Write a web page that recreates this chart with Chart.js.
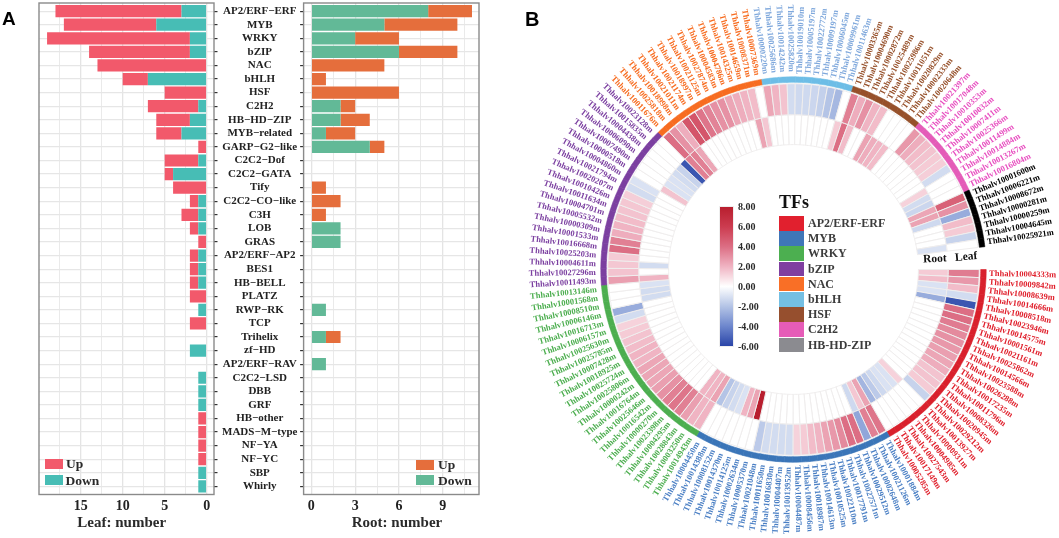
<!DOCTYPE html>
<html>
<head>
<meta charset="utf-8">
<script src="https://cdn.jsdelivr.net/npm/chart.js@4"></script>
<style>
  html, body { margin: 0; padding: 0; background: #fff; overflow: hidden; }
  #page { position: relative; width: 1059px; height: 538px; font-family: "Liberation Serif", serif; font-weight: bold; color: #2a2a2a; }
  #page canvas { position: absolute; top: 0; }
  .txt { position: absolute; white-space: nowrap; line-height: 1; }
  .box { position: absolute; }
  .letter { font-family: "Liberation Sans", sans-serif; color: #000; }
</style>
</head>
<body>
<div id="page">
  <canvas id="chart-leaf" width="300" height="538" style="left:0;width:300px;height:538px"></canvas>
  <canvas id="chart-root" width="205" height="538" style="left:285px;width:205px;height:538px"></canvas>
  <canvas id="chart-ring" width="549" height="538" style="left:510px;width:549px;height:538px"></canvas>
  <div id="overlay"></div>
</div>
<script>
// ─── BAR DATA ─────────────────────────────────────────────
const categories = ['AP2/ERF−ERF', 'MYB', 'WRKY', 'bZIP', 'NAC', 'bHLH', 'HSF', 'C2H2', 'HB−HD−ZIP', 'MYB−related',
  'GARP−G2−like', 'C2C2−Dof', 'C2C2−GATA', 'Tify', 'C2C2−CO−like', 'C3H', 'LOB', 'GRAS', 'AP2/ERF−AP2', 'BES1',
  'HB−BELL', 'PLATZ', 'RWP−RK', 'TCP', 'Trihelix', 'zf−HD', 'AP2/ERF−RAV', 'C2C2−LSD', 'DBB', 'GRF', 'HB−other',
  'MADS−M−type', 'NF−YA', 'NF−YC', 'SBP', 'Whirly']
const leafUp = [15, 11, 17, 12, 13, 3, 5, 6, 4, 3, 1, 4, 1, 4, 1, 2, 1, 1, 1, 1, 1, 2, 0, 2, 0, 0, 0, 0, 0, 0, 1, 1, 1, 1, 0, 0]
const leafDown = [3, 6, 2, 2, 0, 7, 0, 1, 2, 3, 0, 1, 4, 0, 1, 1, 1, 0, 1, 1, 1, 0, 1, 0, 0, 2, 0, 1, 1, 1, 0, 0, 0, 0, 1, 1]
const rootUp = [3, 5, 3, 4, 5, 1, 6, 1, 2, 2, 1, 0, 0, 1, 2, 1, 0, 0, 0, 0, 0, 0, 0, 0, 1, 0, 0, 0, 0, 0, 0, 0, 0, 0, 0, 0]
const rootDown = [8, 5, 3, 6, 0, 0, 0, 2, 2, 1, 4, 0, 0, 0, 0, 0, 2, 2, 0, 0, 0, 0, 1, 0, 1, 0, 1, 0, 0, 0, 0, 0, 0, 0, 0, 0]
const leafGridTicks = [0, 2.5, 5, 7.5, 10, 12.5, 15, 17.5]
const rootGridTicks = [0, 1.5, 3, 4.5, 6, 7.5, 9, 10.5]

// ─── RING DATA ────────────────────────────────────────────
const familyNames = ['AP2/ERF-ERF', 'MYB', 'WRKY', 'bZIP', 'NAC', 'bHLH', 'HSF', 'C2H2', 'HB-HD-ZIP']
const erfGenes = ['10004333', '10009842', '10008639', '10014666', '10008518', '10023946', '10014575', '10001561', '10021161', '10025862', '10014566', '10023588', '10026288', '10017235', '10011796', '10008326', '10020945', '10029212', '10013927', '10000931', '10004985', '10027543', '10017149', '10005285']
const mybGenes = ['10001884', '10021126', '10002648', '10029512', '10027571', '10017791', '10022110', '10010525', '10014613', '10018987', '10008456', '10004487', '10013952', '10004407', '10016830', '10011650', '10021048', '10005370', '10002634', '10014125', '10014370', '10008152', '10014388', '10004450']
const wrkyGenes = ['10014943', '10003250', '10028843', '10004295', '10023398', '10000270', '10016542', '10025646', '10016764', '10000242', '10025806', '10025724', '10018925', '10007428', '10025785', '10025630', '10006157', '10016713', '10006146', '10008510', '10001568', '10013146']
const bzipGenes = ['10011493', '10027296', '10004611', '10025203', '10016668', '10001533', '10000309', '10005532', '10004701', '10011634', '10010426', '10020207', '10021794', '10004860', '10000518', '10007490', '10006090', '10004438', '10015835', '10023128']
const nacGenes = ['10011676', '10025818', '10018998', '10021011', '10021174', '10018997', '10021125', '10027874', '10004583', '10004786', '10014325', '10014659', '10008371', '10007369']
const bhlhGenes = ['10000220', '10025686', '10014242', '10025820', '10019010', '10005197', '10022772', '10009197', '10006045', '10009961', '10011463']
const hsfGenes = ['10003365', '10004690', '10002872', '10025489', '10025986', '10011051', '10020829', '10002333', '10020648']
const c2h2Genes = ['10021397', '10017048', '10010353', '10010032', '10007411', '10025366', '10011499', '10014884', '10013267', '10016804']
const hbGenes = ['10001600', '10006221', '10008672', '10000281', '10000259', '10004645', '10025921']

const erfLeaf = [3.6, 2.8, 1.8, -1.2, -5.5, 4, 4, 3.6, 3.2, 3, 2.8, 2.6, 2.4, 2.2, 1.6, 1.6, 1.4, -1.5, 0, 0, 0, 0, 0, 0]
const erfRoot = [1.4, 1.8, -1, -1, -2.8, 0, 0, 0, 0, 0, 0, 0, 0, 0, 0, 0, 0, 0, 1.2, -1, -1, -1.3, -1.8, -2.5]
const mybLeaf = [3.8, 3.5, -3, 4, 4, 3.2, 2.8, 2.5, 2, 1.8, 1.4, 1.2, -1.2, -1.2, -1.2, -1.2, -1.8, 0, 0, 0, 0, 0, 0, 0]
const mybRoot = [2.5, 1.5, -1.3, 0, 0, 0, 0, 0, 0, 0, 0, 0, 0, 0, 0, 0, 0, 8, 2.5, 2, -1, -1.2, -1.5, -2]
const wrkyLeaf = [2, 2, 2.6, 3.5, 3.8, 3.5, 3, 2.6, 2.4, 2.4, 2.4, 2, 2, 1.8, 1.6, 1.4, 1.2, -1.2, -2.8, 0, 0, 0]
const wrkyRoot = [2.5, 2, 2, 0, 0, 0, 0, 0, 0, 0, 0, 0, 0, 0, 0, 0, 0, 0, 0, -1.2, -1.2, -1]
const bzipLeaf = [2.6, 1.6, 1.5, 1.4, 4, 3.5, 2.2, 2, 1.8, 1.6, 1.5, 1.3, -1.2, -1, 0, 0, 0, 0, 0, 0]
const bzipRoot = [2, 0, -1.2, 0, 0, 0, 0, 0, 0, 0, 0, 0, 0, 0, 1.6, -1, -1, -1.2, -1.5, -5.5]
const nacLeaf = [4, 3, 2.2, 5, 5, 3.8, 3.4, 3, 3, 2.4, 2.2, 2, 1.8, 0]
const nacRoot = [3.5, 3.5, 2.4, 0, 0, 0, 0, 0, 0, 0, 0, 0, 2.5, 1.5]
const bhlhLeaf = [2.4, 2, 1.6, -1.2, -1.3, -1.3, -1.4, -1.6, -2, -2.4, 0]
const bhlhRoot = [0, 0, 0, 0, 0, 0, 0, 0, 0, 0, 1.4]
const hsfLeaf = [3.5, 2.2, 3, 2, 1.8, 0, 0, 0, 0]
const hsfRoot = [4, 1.8, 0, 0, 2.5, 2.2, 2, 1.8, 0]
const c2h2Leaf = [2.8, 2.2, 1.8, 1.6, 1.4, 1.3, -1.2, 0, 0, 0]
const c2h2Root = [0, 0, 0, 0, 0, 0, 0, 1.2, -1.2, -1.4]
const hbLeaf = [4.5, 3, -2.8, 1.8, 1.4, -1.5, 0]
const hbRoot = [2.4, 2.5, -1.3, 0, 0, 0, -1]

const geneGroups = [erfGenes, mybGenes, wrkyGenes, bzipGenes, nacGenes, bhlhGenes, hsfGenes, c2h2Genes, hbGenes]
const leafGroups = [erfLeaf, mybLeaf, wrkyLeaf, bzipLeaf, nacLeaf, bhlhLeaf, hsfLeaf, c2h2Leaf, hbLeaf]
const rootGroups = [erfRoot, mybRoot, wrkyRoot, bzipRoot, nacRoot, bhlhRoot, hsfRoot, c2h2Root, hbRoot]

// ─── COLOURS ──────────────────────────────────────────────
const bandColors = ['#d9202c', '#3a75b8', '#4cae4f', '#7b3fa0', '#f76c20', '#6dbde6', '#96502a', '#e45bb8', '#000000']
const swatchColors = ['#e1202e', '#3f76b8', '#4caf50', '#7f3fa0', '#f96f26', '#74bfe3', '#964f2e', '#e65cb8', '#8b8b90']
const labelColors = ['#e0202c', '#4a7fc4', '#4cae4f', '#7b3fa0', '#f76c20', '#7fa8dc', '#96502a', '#e84fc0', '#000000']
const heatStops = [[-6, [42, 69, 168]], [-4, [110, 135, 205]], [-2, [180, 196, 230]], [0, [255, 255, 255]],
  [2, [240, 180, 195]], [4, [220, 110, 132]], [6, [204, 60, 80]], [8, [184, 30, 46]]]
const colorbarTicks = ['8.00', '6.00', '4.00', '2.00', '0.00', '-2.00', '-4.00', '-6.00']

function heatColor(v) {
    for (let i = 1; i < heatStops.length; i++) {
        const [v0, c0] = heatStops[i - 1]
        const [v1, c1] = heatStops[i]
        if (v <= v1) {
            const t = (v - v0) / (v1 - v0)
            return `rgb(${c0.map((c, k) => Math.round(c + (c1[k] - c) * t)).join(',')})`
        }
    }
    return '#b81e2e'
}

// ─── BAR PANELS ───────────────────────────────────────────
const serif = 'Liberation Serif'

// panel frame goes on top of the bars
const framePlugin = {
    id: 'frame',
    afterDraw(chart) {
        const { ctx, chartArea: a } = chart
        ctx.save()
        ctx.strokeStyle = '#8a8a8a'
        ctx.lineWidth = 1.4
        ctx.strokeRect(a.left, a.top, a.right - a.left, a.bottom - a.top)
        ctx.restore()
    }
}

function barChart(id, o) {
    return new Chart(document.getElementById(id), {
        type: 'bar',
        data: {
            datasets: [
                { label: 'Down', data: o.down.map((x, y) => ({ x, y })), backgroundColor: o.downColor },
                { label: 'Up', data: o.up.map((x, y) => ({ x, y })), backgroundColor: o.upColor }
            ]
        },
        plugins: [framePlugin],
        options: {
            indexAxis: 'y',
            responsive: false,
            animation: false,
            layout: { padding: o.padding },
            datasets: { bar: { barPercentage: 0.9, categoryPercentage: 1, borderWidth: 0 } },
            plugins: { legend: { display: false }, tooltip: { enabled: false } },
            scales: {
                x: {
                    type: 'linear',
                    stacked: true,
                    reverse: o.reverse,
                    min: o.min,
                    max: o.max,
                    afterBuildTicks: s => { s.ticks = o.gridTicks.map(value => ({ value })) },
                    afterFit: s => { s.height = 27 },
                    border: { display: false },
                    grid: {
                        drawTicks: false,
                        color: '#e4e4e4',
                        lineWidth: c => (c.tick.value % o.major === 0 ? 1.3 : 0.8)
                    },
                    ticks: {
                        autoSkip: false,
                        maxRotation: 0,
                        padding: 3,
                        color: '#222',
                        font: { family: serif, weight: 'bold', size: 14 },
                        callback: v => (v % o.major === 0 ? String(v) : '')
                    }
                },
                y: {
                    type: 'linear',
                    stacked: true,
                    reverse: true,
                    offset: false,
                    position: o.yPosition,
                    min: -0.6,
                    max: 35.6,
                    afterBuildTicks: s => { s.ticks = categories.map((c, value) => ({ value })) },
                    // labels must not push the plot area in
                    afterFit: s => { s.width = o.yWidth; s.paddingTop = 0; s.paddingBottom = 0 },
                    border: { display: false },
                    grid: { offset: false, color: '#e6e6e6', lineWidth: 1.2, tickLength: 3.5, tickColor: '#333', tickWidth: 1.2 },
                    ticks: {
                        display: o.showNames,
                        autoSkip: false,
                        crossAlign: 'center',
                        padding: 4.5,
                        color: '#222',
                        font: { family: serif, weight: 'bold', size: 11 },
                        callback: v => categories[v]
                    }
                }
            }
        }
    })
}

barChart('chart-leaf', {
    up: leafUp, down: leafDown, upColor: '#f2596b', downColor: '#47bdb5',
    reverse: true, min: -0.87, max: 19.96, gridTicks: leafGridTicks, major: 5,
    yPosition: 'right', yWidth: 86, showNames: true,
    padding: { left: 39, top: 3, right: 0, bottom: 16.5 }
})

barChart('chart-root', {
    up: rootUp, down: rootDown, upColor: '#e56e3c', downColor: '#62b997',
    reverse: false, min: -0.53, max: 11.48, gridTicks: rootGridTicks, major: 3,
    yPosition: 'left', yWidth: 18.6, showNames: false,
    padding: { left: 0, top: 3, right: 11, bottom: 16.5 }
})

// ─── RING PANEL ───────────────────────────────────────────
const geneFamily = geneGroups.flatMap((g, f) => g.map(() => f))
const geneLabels = geneGroups.flat().map(id => `Thhalv${id}m`)
const leafValues = leafGroups.flat()
const rootValues = rootGroups.flat()
const slices = geneLabels.map(() => 1)

// gene names sit radially outside the band, flipped on the left half
const geneLabelPlugin = {
    id: 'geneLabels',
    afterDraw(chart) {
        const { ctx } = chart
        const arcs = chart.getDatasetMeta(0).data
        ctx.save()
        ctx.font = `bold 8.5px "${serif}"`
        ctx.textBaseline = 'middle'
        arcs.forEach((arc, i) => {
            const angle = (arc.startAngle + arc.endAngle) / 2
            const left = Math.cos(angle) < 0
            const r = arc.outerRadius + (left ? 5 : 3)
            ctx.save()
            ctx.translate(arc.x, arc.y)
            ctx.rotate(left ? angle + Math.PI : angle)
            ctx.textAlign = left ? 'right' : 'left'
            ctx.fillStyle = labelColors[geneFamily[i]]
            ctx.fillText(geneLabels[i], left ? -r : r, 0)
            ctx.restore()
        })
        ctx.restore()
    }
}

new Chart(document.getElementById('chart-ring'), {
    type: 'doughnut',
    data: {
        labels: geneLabels,
        datasets: [
            { label: 'TFs', data: slices, weight: 5.5, borderWidth: 0.6,
              backgroundColor: geneFamily.map(f => bandColors[f]), borderColor: geneFamily.map(f => bandColors[f]) },
            { label: 'spacer', data: slices, weight: 1.5, borderWidth: 0, backgroundColor: 'transparent' },
            { label: 'Leaf', data: slices, weight: 31, borderWidth: 1, borderColor: '#efeded',
              backgroundColor: leafValues.map(heatColor) },
            { label: 'Root', data: slices, weight: 30, borderWidth: 1, borderColor: '#efeded',
              backgroundColor: rootValues.map(heatColor) }
        ]
    },
    plugins: [geneLabelPlugin],
    options: {
        responsive: false,
        animation: false,
        rotation: 90,
        circumference: 353.2,
        cutout: '64.8%',
        layout: { padding: { left: 90.5, right: 72.5, top: 76.5, bottom: 75.5 } },
        plugins: { legend: { display: false }, tooltip: { enabled: false } }
    }
})

// ─── TEXT AND LEGENDS ─────────────────────────────────────
const overlay = document.getElementById('overlay')

function addText(text, x, y, size, extra = '') {
    const el = document.createElement('div')
    el.className = 'txt'
    el.textContent = text
    el.style.cssText = `left:${x}px;top:${y}px;font-size:${size}px;${extra}`
    overlay.appendChild(el)
    return el
}

function addBox(x, y, w, h, background, extra = '') {
    const el = document.createElement('div')
    el.className = 'box'
    el.style.cssText = `left:${x}px;top:${y}px;width:${w}px;height:${h}px;background:${background};${extra}`
    overlay.appendChild(el)
}

addText('A', 2, 9, 19).classList.add('letter')
addText('B', 525, 9, 20).classList.add('letter')
addText('Leaf: number', 121.7, 515, 15, 'transform:translateX(-50%)')
addText('Root: number', 397, 515, 15, 'transform:translateX(-50%)')

addBox(45, 458.7, 18, 10.4, '#f2596b')
addBox(45, 474.7, 18, 10.4, '#47bdb5')
addText('Up', 66, 457, 13.5)
addText('Down', 65.5, 474, 13.5)
addBox(416, 459.7, 18.3, 10.2, '#e56e3c')
addBox(416, 475.3, 18.3, 10.2, '#62b997')
addText('Up', 438, 458, 13.5)
addText('Down', 438, 474, 13.5)

// colour bar built from the same stops as the cells
const barStops = heatStops.slice().reverse()
    .map(([v, c]) => `rgb(${c.join(',')}) ${((8 - v) / 14 * 100).toFixed(1)}%`).join(',')
addBox(720, 206.7, 13, 139.5, `linear-gradient(to bottom,${barStops})`, 'outline:1px solid #eee')
colorbarTicks.forEach((t, i) => addText(t, 738, 201.5 + i * 20, 10))

addText('TFs', 779, 193, 18, 'color:#111')
familyNames.forEach((name, i) => {
    addBox(779, 216 + i * 15.2, 25, 14.6, swatchColors[i])
    addText(name, 808, 217 + i * 15.2, 12, 'color:#3c3c3c')
})

addText('Root', 923, 252.5, 11.5, 'transform:rotate(-3deg);color:#111')
addText('Leaf', 955, 250.5, 11.5, 'transform:rotate(-5deg);color:#111')
</script>
</body>
</html>
